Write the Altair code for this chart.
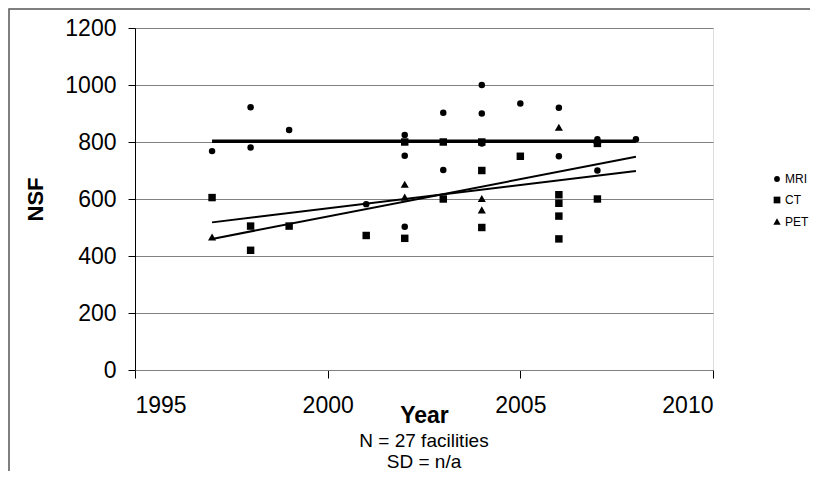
import altair as alt
import pandas as pd

# ---- data ----
mri_year = [1997, 1998, 1998, 1999, 2001, 2002, 2002, 2002, 2003, 2003,
            2004, 2004, 2004, 2005, 2006, 2006, 2007, 2007, 2008]
mri_nsf = [768, 922, 781, 842, 582, 825, 752, 503, 903, 702,
           1000, 900, 795, 935, 920, 750, 810, 700, 810]

ct_year = [1997, 1998, 1998, 1999, 2001, 2002, 2002, 2003, 2003, 2004,
           2004, 2004, 2005, 2006, 2006, 2006, 2006, 2007, 2007]
ct_nsf = [605, 505, 420, 505, 472, 800, 462, 800, 600, 800,
          700, 500, 750, 615, 585, 540, 460, 795, 600]

pet_year = [1997, 2002, 2002, 2004, 2004, 2006, 2007]
pet_nsf = [465, 650, 605, 600, 560, 850, 805]

# trend lines (end points)
trend_series = ["MRI", "MRI", "CT", "CT", "PET", "PET"]
trend_year = [1997, 2008, 1997, 2008, 1997, 2008]
trend_nsf = [803, 803, 518, 698, 460, 748]

series_names = ["MRI", "CT", "PET"]
series_shapes = [
    "circle",
    "M-1.15,-1.15L1.15,-1.15L1.15,1.15L-1.15,1.15Z",
    "M0,-1.25L1.25,0.95L-1.25,0.95Z",
]
x_ticks = [1995, 2000, 2005, 2010]
y_ticks = [0, 200, 400, 600, 800, 1000, 1200]
notes = ["N = 27 facilities", "SD = n/a"]

FONT = "Liberation Sans"

points = pd.DataFrame({
    "year": mri_year + ct_year + pet_year,
    "nsf": mri_nsf + ct_nsf + pet_nsf,
    "type": ["MRI"] * len(mri_year) + ["CT"] * len(ct_year) + ["PET"] * len(pet_year),
})
trend = pd.DataFrame({"year": trend_year, "nsf": trend_nsf, "series": trend_series})

xs = alt.Scale(domain=[1995, 2010], nice=False, zero=False)
ys = alt.Scale(domain=[0, 1200], nice=False)

x_enc = alt.X("year:Q", scale=xs, title="Year",
              axis=alt.Axis(values=x_ticks, format="d", grid=False,
                            labelFontSize=23, labelFont=FONT, labelPadding=16,
                            tickSize=8, tickColor="black", domainColor="#808080",
                            titleFontSize=23, titleFont=FONT, titleFontWeight="bold",
                            titleBaseline="alphabetic", titleY=52))
y_enc = alt.Y("nsf:Q", scale=ys, title="NSF",
              axis=alt.Axis(values=y_ticks, format="d", grid=True, gridColor="#808080",
                            labelFontSize=23, labelFont=FONT, labelPadding=12,
                            tickSize=7, tickColor="black", domainColor="black",
                            titleFontSize=22, titleFont=FONT, titleFontWeight="bold",
                            titleBaseline="alphabetic", titleX=-93, titleY=171))

frame = alt.Chart(pd.DataFrame({"a": [0]})).mark_rect(
    fillOpacity=0, stroke="#555555", strokeWidth=1.5
).encode(x=alt.value(-126), x2=alt.value(720), y=alt.value(-19), y2=alt.value(520))

mri_line = alt.Chart(trend[trend.series == "MRI"]).mark_line(
    color="black", strokeWidth=3.5
).encode(x=x_enc, y=y_enc)

other_lines = alt.Chart(trend[trend.series != "MRI"]).mark_line(
    color="black", strokeWidth=2
).encode(x=x_enc, y=y_enc, detail="series:N")

pts = alt.Chart(points).mark_point(filled=True, opacity=1, color="black", size=42).encode(
    x=x_enc, y=y_enc,
    shape=alt.Shape("type:N", scale=alt.Scale(domain=series_names, range=series_shapes),
                    legend=alt.Legend(title=None, orient="none", legendX=636, legendY=145,
                                      labelFontSize=12, labelFont=FONT, symbolSize=34,
                                      rowPadding=8, padding=0, labelOffset=2,
                                      symbolFillColor="black", symbolStrokeColor="black",
                                      symbolOpacity=1)),
)

note1 = alt.Chart(pd.DataFrame({"t": [notes[0]]})).mark_text(
    fontSize=19, font=FONT, baseline="middle", align="center", color="black"
).encode(text="t:N", x=alt.value(289), y=alt.value(413))
note2 = alt.Chart(pd.DataFrame({"t": [notes[1]]})).mark_text(
    fontSize=19, font=FONT, baseline="middle", align="center", color="black"
).encode(text="t:N", x=alt.value(289), y=alt.value(434))

chart = alt.layer(frame, mri_line, other_lines, pts, note1, note2).properties(
    width=578, height=342,
    autosize=alt.AutoSizeParams(type="none"),
    padding={"left": 127, "top": 20, "right": 97, "bottom": 101},
).configure_view(stroke="#777777", strokeWidth=1.5).configure(background="white")

chart.save("out.html", embed_options={"renderer": "svg", "actions": False})
